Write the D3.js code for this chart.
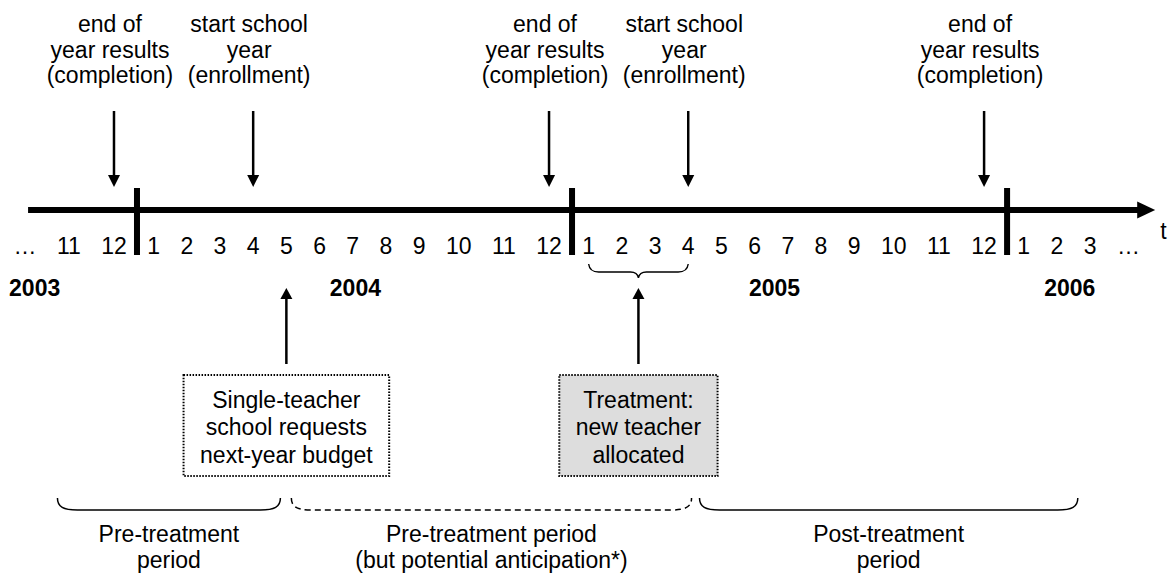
<!DOCTYPE html>
<html><head><meta charset="utf-8">
<script src="https://cdn.jsdelivr.net/npm/d3@7"></script>
<style>
body{margin:0;background:#fff;}
svg text{font-family:"Liberation Sans",Arial,Helvetica,sans-serif;font-size:23px;fill:#000;}
</style></head><body>
<svg id="chart" width="1174" height="574"></svg>
<script>
// ---- data ----
const monthLabels = ["…","11","12",
  "1","2","3","4","5","6","7","8","9","10","11","12",
  "1","2","3","4","5","6","7","8","9","10","11","12",
  "1","2","3","…"];
const yearBoundaryAfter = [2, 14, 26];          // bar drawn after these month slots
const yearLabels = ["2003","2004","2005","2006"];
const yearLabelSlots = [0.22, 9.08, 20.6, 28.39];
const topEvents = [
  {slot: 2,  lines: ["end of","year results","(completion)"]},
  {slot: 6,  lines: ["start school","year","(enrollment)"]},
  {slot: 14, lines: ["end of","year results","(completion)"]},
  {slot: 18, lines: ["start school","year","(enrollment)"]},
  {slot: 26, lines: ["end of","year results","(completion)"]}
];
const callouts = [
  {slot: 7,    lines: ["Single-teacher","school requests","next-year budget"], fill: "#ffffff"},
  {slot: 16.5, lines: ["Treatment:","new teacher","allocated"], fill: "#dddddd"}
];
const treatmentSpan = [15, 18];
const periods = [
  {from: 0.74,  to: 6.82,  dashed: false, lines: ["Pre-treatment","period"]},
  {from: 7.15,  to: 18.1,  dashed: true,  lines: ["Pre-treatment period","(but potential anticipation*)"]},
  {from: 18.34, to: 28.63, dashed: false, lines: ["Post-treatment","period"]}
];

// ---- layout ----
const svg = d3.select("#chart");
const measurer = svg.append("text").attr("visibility","hidden");
const widthOf = t => { measurer.text(t); return measurer.node().getComputedTextLength(); };
const labelW = monthLabels.map(widthOf);
const gap = 20.4;
const positions = [25];
for (let i = 1; i < monthLabels.length; i++) {
  positions.push(positions[i-1] + labelW[i-1]/2 + labelW[i]/2 + gap);
}
const x = d3.scaleLinear().domain(d3.range(monthLabels.length)).range(positions);

const axisY = 210, monthBaseline = 254;

// main axis
svg.append("line")
  .attr("x1", x(0.07)).attr("x2", x(30.7) - 16)
  .attr("y1", axisY).attr("y2", axisY)
  .attr("stroke","#000").attr("stroke-width",6);
const tipX = x(30.7);
svg.append("path")
  .attr("d", `M${tipX},${axisY} L${tipX-18},${axisY-8.5} L${tipX-18},${axisY+8.5} Z`)
  .attr("fill","#000");
svg.append("text").attr("x", tipX + 5).attr("y", 239).text("t");

// year boundary bars
yearBoundaryAfter.forEach(i => {
  const bx = ((positions[i] + labelW[i]/2) + (positions[i+1] - labelW[i+1]/2)) / 2;
  svg.append("rect").attr("x", bx - 3).attr("y", 188).attr("width", 6).attr("height", 67).attr("fill","#000");
});

// month labels
svg.append("g").selectAll("text").data(monthLabels).join("text")
  .attr("x", (d,i) => x(i)).attr("y", monthBaseline)
  .attr("text-anchor","middle").text(d => d);

// year labels
svg.append("g").selectAll("text").data(yearLabels).join("text")
  .attr("x", (d,i) => x(yearLabelSlots[i])).attr("y", 296)
  .attr("text-anchor","middle").attr("font-weight","bold").text(d => d);

function arrow(ax, yFrom, yTo, headLen, headHalf, sw) {
  const dir = Math.sign(yTo - yFrom);
  svg.append("line").attr("x1", ax).attr("x2", ax)
    .attr("y1", yFrom).attr("y2", yTo - dir*headLen*0.8)
    .attr("stroke","#000").attr("stroke-width", sw);
  svg.append("path")
    .attr("d", `M${ax},${yTo} L${ax-headHalf},${yTo-dir*headLen} L${ax+headHalf},${yTo-dir*headLen} Z`)
    .attr("fill","#000");
}

// top events
topEvents.forEach(ev => {
  const ex = x(ev.slot);
  const t = svg.append("text").attr("text-anchor","middle");
  ev.lines.forEach((ln, k) => t.append("tspan").attr("x", ex - 4).attr("y", 32 + k*25.5).text(ln));
  arrow(ex, 111, 187, 12, 6, 2.5);
});

// treatment curly brace
{
  const x0 = x(treatmentSpan[0]), x1 = x(treatmentSpan[1]), xm = (x0 + x1)/2;
  const yt = 264, yf = 272, yp = 278;
  svg.append("path")
    .attr("d", `M${x0},${yt} Q${x0+1},${yf} ${x0+10},${yf} L${xm-8},${yf} Q${xm-1},${yf} ${xm},${yp} Q${xm+1},${yf} ${xm+8},${yf} L${x1-10},${yf} Q${x1-1},${yf} ${x1},${yt}`)
    .attr("fill","none").attr("stroke","#000").attr("stroke-width",1.4);
}

// callout boxes with up arrows
callouts.forEach(c => {
  const cx = x(c.slot);
  arrow(cx, 364, 288, 11, 6, 2.5);
  const w = d3.max(c.lines, widthOf) + 33;
  svg.append("rect").attr("x", cx - w/2).attr("y", 375).attr("width", w).attr("height", 101)
    .attr("fill", c.fill).attr("stroke","#000").attr("stroke-width",2)
    .attr("stroke-dasharray","1.5 1.5");
  const t = svg.append("text").attr("text-anchor","middle");
  c.lines.forEach((ln, k) => t.append("tspan").attr("x", cx).attr("y", 407.5 + k*27.5).text(ln));
});

// period brackets
periods.forEach(p => {
  const x0 = x(p.from), x1 = x(p.to), yt = 498, yb = 510;
  svg.append("path")
    .attr("d", `M${x0},${yt} C${x0},${yb-3} ${x0+6},${yb} ${x0+20},${yb} L${x1-20},${yb} C${x1-6},${yb} ${x1},${yb-3} ${x1},${yt}`)
    .attr("fill","none").attr("stroke","#000").attr("stroke-width",1.5)
    .attr("stroke-dasharray", p.dashed ? "6 4" : null);
  const t = svg.append("text").attr("text-anchor","middle");
  p.lines.forEach((ln, k) => t.append("tspan").attr("x", (x0 + x1)/2).attr("y", 542 + k*26).text(ln));
});

measurer.remove();
</script>
</body></html>
